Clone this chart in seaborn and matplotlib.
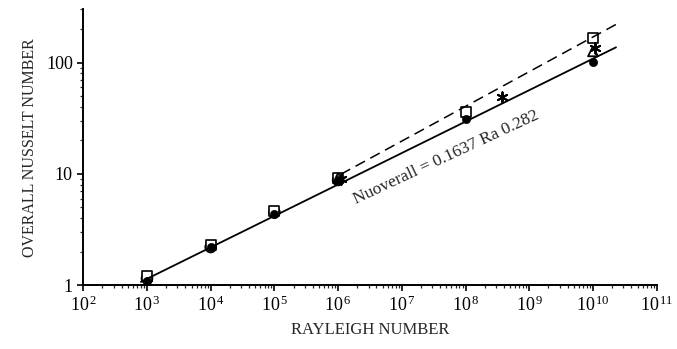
import math
import matplotlib
matplotlib.use("Agg")
import matplotlib.pyplot as plt
import matplotlib.ticker as mticker
import seaborn as sns

# Data
ra_open_circle = [1e3, 1e4, 1e5, 1e6]
nu_open_circle = [1.15, 2.2, 4.5, 8.8]

ra_square = [1e3, 1e4, 1e5, 1e6, 1e8, 1e10]
nu_square = [1.2, 2.3, 4.6, 9.1, 36, 165]

ra_filled = [1e3, 1e4, 1e5, 1e6, 1e8, 1e10]
nu_filled = [1.08, 2.2, 4.4, 8.7, 31, 101]

ra_triangle = [1e6, 1e10]
nu_triangle = [9.2, 126]

ra_star = [1e3, 1.1e6, 3.8e8, 1.07e10]
nu_star = [1.05, 9.0, 49, 135]

fit_ra = [8e2, 2.3e10]
fit_nu = [1.07, 137]

dash_ra = [1.1e6, 2.3e10]
dash_nu = [9.9, 220]

x_ticks = [1e2, 1e3, 1e4, 1e5, 1e6, 1e7, 1e8, 1e9, 1e10, 1e11]
y_ticks = [1, 10, 100]
y_tick_labels = ['1', '10', '100']

sns.set_style("ticks")
plt.rcParams['font.family'] = ['Liberation Serif', 'DejaVu Serif']
plt.rcParams['mathtext.fontset'] = 'custom'
plt.rcParams['mathtext.rm'] = 'Liberation Serif'
plt.rcParams['mathtext.it'] = 'Liberation Serif:italic'

fig = plt.figure(figsize=(6.77, 3.49), dpi=100)
ax = fig.add_axes([0.123, 0.183, 0.847, 0.79])

sns.lineplot(x=fit_ra, y=fit_nu, ax=ax, color='black', lw=1.3)
sns.lineplot(x=dash_ra, y=dash_nu, ax=ax, color='black', lw=1.1, linestyle=(0, (7, 4)))

sns.scatterplot(x=ra_open_circle, y=nu_open_circle, ax=ax, marker='o', s=60,
                facecolor='none', edgecolor='black', linewidth=1.3)
sns.scatterplot(x=ra_square, y=nu_square, ax=ax, marker='s', s=50,
                facecolor='white', edgecolor='black', linewidth=1.2)
sns.scatterplot(x=ra_filled, y=nu_filled, ax=ax, marker='o', s=35,
                color='black', edgecolor='black')
sns.scatterplot(x=ra_triangle, y=nu_triangle, ax=ax, marker='^', s=50,
                facecolor='none', edgecolor='black', linewidth=1.3)
sns.scatterplot(x=ra_star, y=nu_star, ax=ax, marker=(6, 2, 0), s=55,
                color='black', edgecolor='black', linewidth=1.4)

ax.set_xscale('log')
ax.set_yscale('log')
ax.set_xlim(1e2, 1e11)
ax.set_ylim(1, 300)

ax.xaxis.set_major_locator(mticker.FixedLocator(x_ticks))
ax.xaxis.set_minor_locator(mticker.LogLocator(base=10, subs=range(2, 10), numticks=100))
ax.xaxis.set_minor_formatter(mticker.NullFormatter())
ax.xaxis.set_major_formatter(mticker.FuncFormatter(
    lambda v, p: r'$10^{\,%d}$' % round(math.log10(v))))

ax.yaxis.set_major_locator(mticker.FixedLocator(y_ticks))
ax.yaxis.set_major_formatter(mticker.FixedFormatter(y_tick_labels))
ax.yaxis.set_minor_locator(mticker.LogLocator(base=10, subs=range(2, 10), numticks=100))
ax.yaxis.set_minor_formatter(mticker.NullFormatter())

ax.tick_params(which='major', direction='out', length=4, width=1.2, labelsize=13, colors='black')
ax.tick_params(which='minor', direction='out', length=2.5, width=0.9)
for s in ['left', 'bottom']:
    ax.spines[s].set_linewidth(1.4)
    ax.spines[s].set_color('black')
sns.despine(ax=ax)

ax.set_xlabel('RAYLEIGH NUMBER', fontsize=12, labelpad=5)
ax.set_ylabel('OVERALL NUSSELT NUMBER', fontsize=11.5, labelpad=6)

ax.text(2.0e6, 5.0, 'Nuoverall = 0.1637 Ra 0.282', fontsize=12.5,
        rotation=25, rotation_mode='anchor', ha='left', va='bottom')

fig.savefig('out.png', dpi=100)
